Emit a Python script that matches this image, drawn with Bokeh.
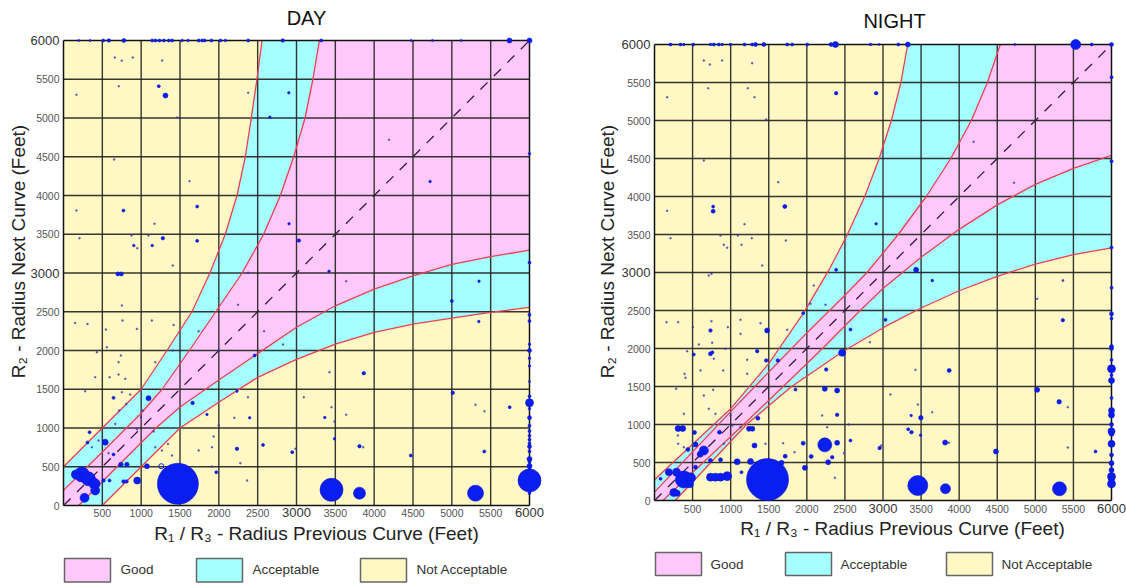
import math
from bokeh.plotting import figure
from bokeh.models import Range1d, FixedTicker, LinearAxis
from bokeh.layouts import row
from bokeh.embed import file_html
from bokeh.resources import INLINE
from bokeh.core.properties import value

# ---------------------------------------------------------------- data
TICKS = [0, 500, 1000, 1500, 2000, 2500, 3000, 3500, 4000, 4500, 5000, 5500, 6000]
BIG_TICKS = [3000, 6000]
ZONES = ["Good", "Acceptable", "Not Acceptable"]
TITLES = ["DAY", "NIGHT"]
X_LABEL = "R\u2081 / R\u2083 - Radius Previous Curve (Feet)"
Y_LABEL = "R\u2082 - Radius Next Curve (Feet)"

# zone boundaries, upper branch (R1 -> R2); the lower branch is its mirror image
day_acc_r1 = [0, 500, 1000, 1332, 1654, 1885, 2083, 2234, 2341, 2418, 2491, 2556]
day_acc_r2 = [500, 1000, 1500, 2000, 2500, 3000, 3500, 4000, 4500, 5000, 5500, 6000]
day_good_r1 = [0, 500, 1000, 1270, 1620, 1960, 2300, 2577, 2792, 2964, 3110, 3211, 3295]
day_good_r2 = [195, 690, 1190, 1500, 2000, 2500, 3000, 3500, 4000, 4500, 5000, 5500, 6000]
night_acc_r1 = [0, 500, 1000, 1500, 1958, 2300, 2533, 2760, 2950, 3110, 3235, 3324]
night_acc_r2 = [272, 740, 1208, 1801, 2469, 3050, 3500, 4000, 4500, 5000, 5500, 6000]
night_good_r1 = [0, 500, 1000, 1500, 2000, 2500, 2790, 3200, 3568, 3890, 4160, 4370, 4540]
night_good_r2 = [110, 640, 1170, 1690, 2205, 2700, 3000, 3500, 4000, 4500, 5000, 5500, 6000]

# DAY observations: R1, R2, bubble weight
day_r1 = [1473, 236, 322, 400, 408, 271, 159, 3451, 3811, 5305, 6000, 6000, 537, 1095, 949,
          1074, 739, 816, 773, 812, 515, 593, 1662, 644, 335, 309, 644, 700, 745, 1313,
          1227, 2233, 2569, 2461, 2233, 2397, 1847, 1967, 3866, 5012, 3811, 4472, 5417, 2945, 3489,
          3364, 5347, 5745, 5000, 2657, 2901, 772, 1721, 1279, 1721, 905, 1142, 3030, 4720,
          2904, 3419, 5350, 6000, 6000,
          6000, 6000, 6000, 6000, 6000, 6000, 6000, 6000, 6000, 6000, 6000, 6000, 6000, 6000,
          6000, 6000, 6000, 6000, 6000, 6000, 6000, 6000,
          197, 343, 511, 584, 777, 1142, 1184, 1236, 1292, 1357, 1399, 1528, 1605, 1742, 1785,
          1819, 1905, 2021, 2085, 2378, 2823, 3318, 4477, 4750, 5120, 5742, 6000]
day_r2 = [280, 400, 344, 280, 194, 99, 400, 203, 159, 159, 323, 1325, 817, 1385, 322,
          507, 529, 529, 310, 310, 322, 322, 1324, 1389, 946, 813, 658, 2988, 2988, 5290,
          5411, 731, 782, 1935, 1475, 1131, 1174, 430, 1707, 1454, 765, 645, 697, 688, 860,
          1135, 2374, 1268, 2640, 5011, 5325, 3806, 3858, 3449, 3415, 3355, 3355, 3419, 4181,
          3635, 3023, 2894, 4540, 3135,
          2460, 2380, 2080, 2000, 1900, 1800, 1600, 1410, 1250, 1133, 1030, 960, 900, 850,
          800, 760, 700, 600, 560, 510, 470, 160,
          6000, 6000, 6000, 6000, 6000, 6000, 6000, 6000, 6000, 6000, 6000, 6000, 6000, 6000, 6000,
          6000, 6000, 6000, 6000, 6000, 6000, 6000, 6000, 6000, 6000, 6000, 6000]
day_w = [41, 15, 14, 11, 9, 9, 9, 23, 12, 16, 23, 8, 6, 5, 7,
         5, 4.5, 4.5, 3.5, 3.5, 3.5, 3, 3.5, 3, 3, 3, 3, 4, 4, 5,
         3, 3.5, 3, 3, 2.5, 2.5, 2.5, 3, 3.5, 3.5, 3.5, 3, 3, 3, 2.5,
         2.5, 2.5, 3, 3, 2.5, 2.5, 3, 3, 3.5, 3, 2.5, 2.5, 3.5, 2.5,
         2.5, 2.5, 2.5, 2.5, 3,
         3, 3, 2.5, 4, 2.5, 2.5, 2, 3, 2.5, 4, 3, 3, 3, 3,
         3, 4, 3, 5, 3, 5, 3, 3,
         2, 2, 3, 3.5, 4, 3, 3, 3, 3, 3, 3, 2.5, 2.5, 3, 3,
         3, 3, 3, 2.5, 3, 3.5, 3, 2, 2, 2, 5, 5]
day_tiny_r1 = [150, 309, 546, 760, 1138, 1418, 945, 430, 558, 739, 709, 1181, 408, 593, 709,
               795, 279, 752, 859, 717, 808, 1018, 997, 666, 945, 1160, 1181, 1267, 1396, 1345,
               1740, 1912, 2277, 2363, 752, 1405, 1740, 1997, 2247, 2582, 2826, 1933, 1911, 2375,
               2199, 580, 365, 451, 1997, 3425, 3094, 3451, 3640, 3489, 3859, 5305, 5420, 2987,
               660, 892, 750, 1271, 167, 2378, 1464, 652, 1622, 167, 1172, 206, 875, 1094, 950,
               1407, 2378, 712, 4192, 3640]
day_tiny_r2 = [2356, 2343, 2270, 2386, 2386, 2330, 2279, 1978, 2042, 1935, 1849, 1849, 1655, 1655, 1690,
               1634, 1475, 1462, 1432, 1225, 1311, 1225, 1139, 1053, 985, 954, 752, 709, 645, 795,
               709, 752, 546, 322, 2580, 1999, 2249, 1995, 2589, 2249, 2077, 890, 503, 1397,
               1131, 675, 752, 838, 1032, 1720, 1398, 1269, 1170, 1084, 752, 1299, 1217, 731,
               5781, 5781, 5740, 5742, 5299, 5325, 5006, 4465, 4185, 3806, 3635, 3449, 3484, 3484, 3320,
               3097, 3003, 5411, 4718, 2894]
day_hollow_r1 = [1259]
day_hollow_r2 = [507]

# NIGHT observations
night_r1 = [1484, 1260, 1667, 2236, 2398, 2280, 2333, 1974, 1952, 2057, 1313, 1240, 1285, 1085, 954,
            735, 800, 867, 867, 735, 648, 600, 538, 525, 310, 370, 438, 385, 473, 460,
            289, 188, 254, 298, 79, 538, 853, 1357, 1348, 1466, 1619, 1479, 735, 735, 760,
            516, 2254, 2236, 2398, 2398, 2464, 2573, 1851, 1952, 2573, 2958, 1716, 1142, 3457, 3820,
            5317, 3869, 5024, 5313, 5361, 3497, 3374, 3331, 3493, 3816, 4483, 2954, 3370, 3033, 5790,
            2385, 2910, 770, 770, 1711, 2910, 2385, 3435, 3647,
            6000, 6000, 6000, 6000, 6000, 6000, 6000, 6000, 6000, 6000, 6000, 6000, 6000, 6000, 6000,
            6000, 6000, 6000, 6000, 6000, 6000, 6000, 6000, 6000, 6000,
            210, 341, 385, 508, 735, 779, 845, 888, 998, 1182, 1282, 1326, 1435, 1742, 1807,
            2004, 2319, 2376, 2836, 3326, 3200, 2950, 4730, 5530, 5740, 6000]
night_r2 = [276, 513, 496, 732, 759, 504, 570, 430, 754, 579, 724, 943, 943, 509, 320,
            307, 307, 307, 535, 526, 658, 610, 737, 895, 947, 947, 671, 276, 298, 219,
            373, 373, 105, 96, 285, 439, 899, 1083, 1965, 1842, 1842, 2237, 2237, 1930, 1950,
            1921, 1724, 1469, 1447, 1127, 1943, 2250, 1460, 2465, 789, 693, 583, 373, 197, 154,
            154, 1711, 1456, 1298, 2373, 1088, 899, 938, 859, 763, 645, 689, 1118, 2377, 645,
            5360, 5360, 3868, 3807, 3868, 3640, 3035, 3035, 2894,
            2456, 2395, 2026, 2000, 1733, 1579, 1184, 1125, 912, 877, 746, 491, 400, 316, 219,
            2800, 3330, 4465, 5570, 1850, 1650, 1350, 1000, 600, 280,
            6000, 6000, 6000, 6000, 6000, 6000, 6000, 6000, 6000, 6000, 6000, 6000, 6000, 6000, 6000,
            6000, 6000, 6000, 6000, 6000, 6000, 6000, 6000, 6000, 6000, 6000]
night_w = [42, 6, 5, 14, 5, 5, 3.5, 5, 4, 4, 5, 5, 5, 6, 9,
           8, 8, 8, 4, 4, 9, 6, 5, 4, 6, 6, 4, 17, 10, 8,
           8, 7, 8, 6, 3, 4, 4, 4, 3.5, 3.5, 3.5, 5, 3.5, 4, 3,
           3, 3.5, 5, 5, 3.5, 7, 3, 3, 3, 3, 3, 4, 3, 20, 10,
           14, 4, 5, 4.5, 3.5, 4.5, 3.5, 3, 2.5, 5, 5, 3, 2.5, 3, 3,
           3.5, 3.5, 3, 4, 4, 2.5, 3, 5, 2.5,
           4, 3, 4, 4, 8, 6, 6, 6, 7, 5, 7, 5, 5, 8, 8,
           3, 3, 3, 3, 3, 3, 3, 4, 4, 6,
           3, 3, 2.5, 3, 2.5, 3, 3, 2.5, 2.5, 3, 3, 4, 4, 3, 3,
           3, 4, 6, 2.5, 5, 3, 2, 2, 10, 3, 4]
night_tiny_r1 = [158, 311, 503, 748, 963, 1129, 1392, 1129, 582, 757, 429, 779, 932, 1217, 394,
                 407, 604, 902, 1217, 284, 648, 770, 713, 801, 385, 998, 1020, 1129, 306, 311,
                 385, 910, 1457, 1689, 1838, 2201, 2267, 2551, 2368, 2486, 2092, 2048, 2245, 1742, 748,
                 713, 3427, 3098, 3457, 3646, 3865, 5426, 5426, 5024, 5361, 3646, 2827, 2977,
                 648, 888, 726, 1282, 705, 1225, 1313, 166, 1466, 648, 1624, 166, 1182, 210, 867,
                 1094, 910, 954, 1142, 1278, 1724, 1414, 4190, 4720, 5363]
night_tiny_r2 = [2346, 2346, 2281, 2360, 2281, 2377, 2333, 2193, 2053, 2075, 1965, 1864, 1996, 1851, 1667,
                 1614, 1711, 1711, 1667, 1469, 1382, 1456, 1206, 1140, 1140, 1118, 987, 965, 855, 746,
                 702, 746, 746, 754, 636, 1118, 965, 1000, 298, 623, 2829, 2588, 2575, 2246, 2982,
                 2961, 1719, 1394, 1263, 1162, 759, 1228, 697, 2654, 2895, 2895, 2083, 724,
                 5789, 5789, 5737, 5754, 5425, 5425, 5307, 5307, 5013, 4474, 4189, 3811, 3636, 3452, 3487,
                 3487, 3364, 3325, 3364, 3452, 3421, 3092, 4719, 4180, 2894]

# ---------------------------------------------------------------- styles / layout
FONT = "Liberation Sans"
YELLOW = "#FFF8C4"
CYAN = "#A6FFFF"
PINK = "#FFC8FA"
RED = "#EE3E52"
BLUE = "#0B1EF2"
GRID = "#202020"
ZONE_COLORS = [PINK, CYAN, YELLOW]
CANVAS_H = 584

# screen geometry (page pixels): L/B = where R1=0 / R2=0 fall, sx/sy = px per foot
DAY_CFG = dict(X0=0, W=590, L=63, B=505, sx=466 / 6000, sy=465 / 6000,
               title=(306, 17), xlab=(316, 533), ylab=(18, 251), xstand=3, ystand=4,
               leg_left=[64, 196, 360], leg_w=46, leg_top=558, leg_bot=581.5,
               leg_text_x=[120, 252, 416], leg_text_y=569)
NIGHT_CFG = dict(X0=590, W=536, L=654, B=500, sx=457 / 6000, sy=456 / 6000,
                 title=(894, 20), xlab=(902, 528), ylab=(607, 251), xstand=4, ystand=4,
                 leg_left=[655, 785, 946], leg_w=46, leg_top=552, leg_bot=575,
                 leg_text_x=[710, 840, 1001], leg_text_y=564)


def style_axis(ax, size, color, standoff, ticks):
    ax.ticker = FixedTicker(ticks=ticks)
    ax.fixed_location = 0
    ax.axis_line_color = None
    ax.major_tick_line_color = None
    ax.minor_tick_line_color = None
    ax.major_tick_out = 0
    ax.major_tick_in = 0
    ax.major_label_text_font = FONT
    ax.major_label_text_font_size = size
    ax.major_label_text_color = color
    ax.major_label_standoff = standoff


def make_panel(cfg, title, acc_r1, acc_r2, good_r1, good_r2, r1, r2, w, t1, t2, h1=None, h2=None):
    L, B, sx, sy = cfg["L"], cfg["B"], cfg["sx"], cfg["sy"]
    X0, W = cfg["X0"], cfg["W"]

    def dx(px):
        return (px - L) / sx

    def dy(py):
        return (B - py) / sy

    p = figure(width=W, height=CANVAS_H,
               x_range=Range1d(dx(X0), dx(X0 + W)), y_range=Range1d(dy(CANVAS_H), dy(0)),
               output_backend="svg", toolbar_location=None,
               min_border=0, min_border_left=0, min_border_right=0, min_border_top=0, min_border_bottom=0,
               background_fill_color="white", border_fill_color="white", outline_line_color=None)
    p.grid.visible = False

    lo, hi = TICKS[0], TICKS[-1]
    # background zones
    p.quad(left=[lo], right=[hi], bottom=[lo], top=[hi], fill_color=YELLOW, line_color=None)
    p.patch(acc_r1 + [hi] + acc_r2[::-1] + [lo], acc_r2 + [hi] + acc_r1[::-1] + [lo],
            fill_color=CYAN, line_color=None)
    p.patch(good_r1 + [hi] + good_r2[::-1] + [lo], good_r2 + [hi] + good_r1[::-1] + [lo],
            fill_color=PINK, line_color=None)
    # grid
    inner = TICKS[1:-1]
    p.segment(x0=inner, y0=[lo] * len(inner), x1=inner, y1=[hi] * len(inner),
              line_color=GRID, line_width=1.4, line_alpha=0.9)
    p.segment(x0=[lo] * len(inner), y0=inner, x1=[hi] * len(inner), y1=inner,
              line_color=GRID, line_width=1.4, line_alpha=0.9)
    # boundary curves
    for a, b in ((acc_r1, acc_r2), (good_r1, good_r2)):
        p.line(a, b, line_color=RED, line_width=1.3)
        p.line(b, a, line_color=RED, line_width=1.3)
    # frame of the chart area
    p.segment(x0=[lo, hi, lo, lo], y0=[lo, lo, lo, hi], x1=[lo, hi, hi, hi], y1=[hi, hi, lo, hi],
              line_color="#111111", line_width=1.5)
    # diagonal R1 = R2
    p.line([lo, hi], [lo, hi], line_color="#3a1a3a", line_width=1.3, line_dash="10 9")
    # observations
    p.scatter(t1, t2, size=2, fill_color="#3838B0", line_color="#3838B0", line_width=0.3, fill_alpha=0.8)
    p.scatter(r1, r2, size=w, fill_color=BLUE, line_color="#0A14C8", line_width=0.6)
    if h1:
        p.scatter(h1, h2, size=5, fill_color=None, line_color=BLUE, line_width=1.0)

    # axes (drawn at R=0 lines)
    small = [t for t in TICKS if t not in BIG_TICKS]
    style_axis(p.xaxis[0], "10.5px", "#555555", cfg["xstand"], small[1:])
    style_axis(p.yaxis[0], "10.5px", "#555555", cfg["ystand"], small)
    xb = LinearAxis()
    style_axis(xb, "13px", "#333333", cfg["xstand"] - 1, BIG_TICKS)
    p.add_layout(xb, "below")
    yb = LinearAxis()
    style_axis(yb, "13px", "#333333", cfg["ystand"], BIG_TICKS)
    p.add_layout(yb, "left")

    # title & axis titles
    tx, ty = cfg["title"]
    p.text(x=[dx(tx)], y=[dy(ty)], text=[title], text_font=value(FONT), text_font_size=value("20px"),
           text_color="#111111", text_align="center", text_baseline="middle")
    xx, xy = cfg["xlab"]
    p.text(x=[dx(xx)], y=[dy(xy)], text=[X_LABEL], text_font=value(FONT), text_font_size=value("19px"),
           text_color="#222222", text_align="center", text_baseline="middle")
    yx, yy = cfg["ylab"]
    p.text(x=[dx(yx)], y=[dy(yy)], text=[Y_LABEL], text_font=value(FONT), text_font_size=value("19px"),
           text_color="#222222", text_align="center", text_baseline="middle", angle=math.pi / 2)

    # legend
    lefts = cfg["leg_left"]
    p.quad(left=[dx(v) for v in lefts], right=[dx(v + cfg["leg_w"]) for v in lefts],
           top=[dy(cfg["leg_top"])] * len(lefts), bottom=[dy(cfg["leg_bot"])] * len(lefts),
           fill_color=ZONE_COLORS, line_color="#666666", line_width=1.5)
    p.text(x=[dx(v) for v in cfg["leg_text_x"]], y=[dy(cfg["leg_text_y"])] * len(ZONES), text=ZONES,
           text_font=value(FONT), text_font_size=value("13.5px"), text_color="#333333",
           text_baseline="middle", text_align="left")
    return p


p_day = make_panel(DAY_CFG, TITLES[0], day_acc_r1, day_acc_r2, day_good_r1, day_good_r2,
                   day_r1, day_r2, day_w, day_tiny_r1, day_tiny_r2, day_hollow_r1, day_hollow_r2)
p_night = make_panel(NIGHT_CFG, TITLES[1], night_acc_r1, night_acc_r2, night_good_r1, night_good_r2,
                     night_r1, night_r2, night_w, night_tiny_r1, night_tiny_r2)

layout = row(p_day, p_night)

open("out.html", "w").write(file_html(layout, INLINE))
